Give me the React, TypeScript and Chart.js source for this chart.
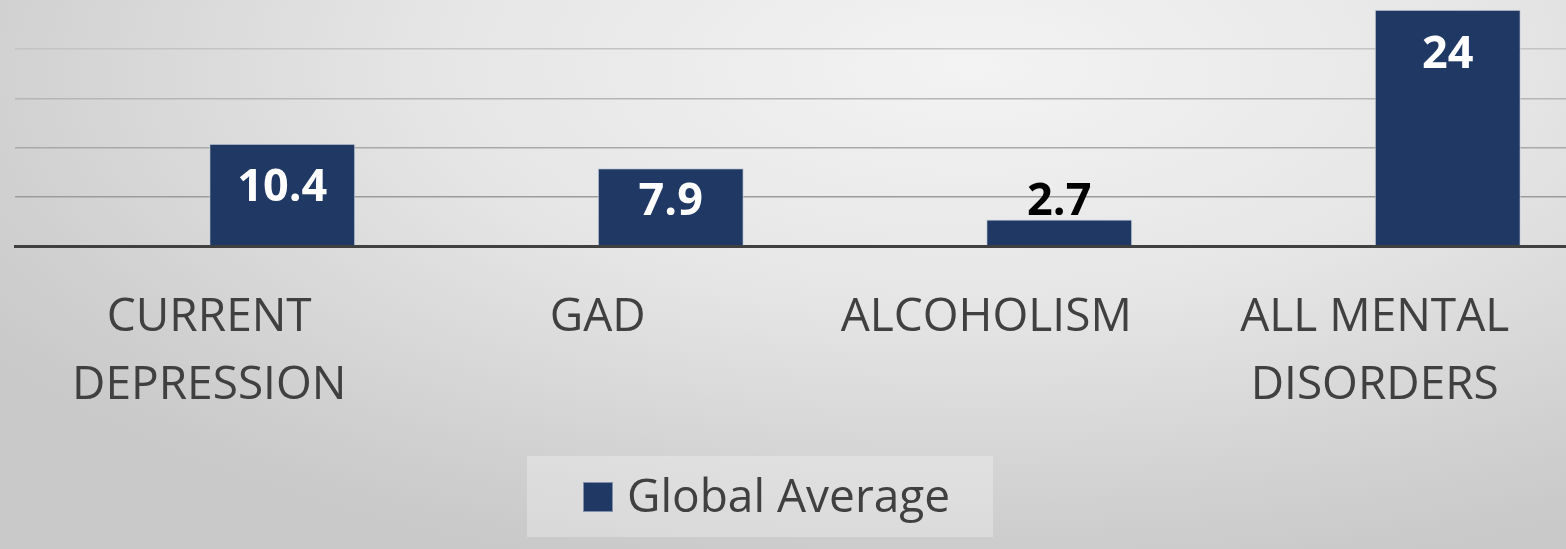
import React, { useEffect, useRef } from "react";
import { Chart, registerables } from "chart.js";

Chart.register(...registerables);

const categories: string[][] = [
  ["CURRENT", "DEPRESSION"],
  ["GAD"],
  ["ALCOHOLISM"],
  ["ALL MENTAL", "DISORDERS"],
];
const hiddenSeries: (number | null)[] = [null, null, null, null];
const globalAverage: number[] = [10.4, 7.9, 2.7, 24];
const seriesLabel = "Global Average";
const yTicks: number[] = [0, 5, 10, 15, 20, 25];

const NAVY = "#203864";
const FONT = "'Open Sans', 'Noto Sans', sans-serif";

const labelPlugin = {
  id: "barLabels",
  afterDatasetsDraw(chart: any) {
    const ctx = chart.ctx;
    const meta = chart.getDatasetMeta(1);
    const data = chart.data.datasets[1].data as number[];
    ctx.save();
    ctx.font = `bold 45px ${FONT}`;
    ctx.textAlign = "center";
    ctx.textBaseline = "middle";
    meta.data.forEach((bar: any, i: number) => {
      const top = bar.y;
      const base = bar.base;
      const cy = Math.min(top + 45, base - 43);
      ctx.fillStyle = cy > top + 18 ? "#ffffff" : "#000000";
      ctx.fillText(String(data[i]), bar.x, cy);
    });
    ctx.restore();
  },
};

const legendPlugin = {
  id: "customLegend",
  afterDraw(chart: any) {
    const ctx = chart.ctx;
    const ds = chart.data.datasets[1];
    ctx.save();
    ctx.fillStyle = "rgba(255,255,255,0.28)";
    ctx.fillRect(527, 456, 466, 81);
    ctx.fillStyle = ds.backgroundColor;
    ctx.fillRect(583, 482, 30, 30);
    ctx.strokeStyle = "#8090aa";
    ctx.lineWidth = 1;
    ctx.strokeRect(583.5, 482.5, 29, 29);
    ctx.fillStyle = "#404040";
    ctx.font = `46px ${FONT}`;
    ctx.textAlign = "left";
    ctx.textBaseline = "alphabetic";
    ctx.fillText(ds.label, 627, 512);
    ctx.restore();
  },
};

const gridColors: Record<number, string> = {
  0: "rgba(0,0,0,0)",
  5: "#9c9c9c",
  10: "#a9a9a9",
  15: "#b6b6b6",
  20: "#c4c4c4",
  25: "rgba(0,0,0,0)",
};

export default function App() {
  const ref = useRef<HTMLCanvasElement | null>(null);
  useEffect(() => {
    if (!ref.current) return;
    const chart = new Chart(ref.current, {
      type: "bar",
      data: {
        labels: categories,
        datasets: [
          {
            label: "",
            data: hiddenSeries,
            backgroundColor: "rgba(0,0,0,0)",
          },
          {
            label: seriesLabel,
            data: globalAverage,
            backgroundColor: NAVY,
            borderColor: "#c8d0dc",
            borderWidth: 1,
          },
        ],
      },
      options: {
        responsive: false,
        animation: false,
        categoryPercentage: 292 / 388.5,
        barPercentage: 1,
        layout: { padding: { left: 15, right: 0, top: 0, bottom: 91 } },
        plugins: {
          legend: { display: false },
          tooltip: { enabled: false },
        },
        scales: {
          x: {
            grid: { display: false, drawTicks: false },
            border: { display: true, color: "#404040", width: 3 },
            ticks: {
              color: "#404040",
              font: { family: FONT, size: 46, lineHeight: 68 / 46 },
              padding: 38,
              maxRotation: 0,
              autoSkip: false,
            },
          },
          y: {
            min: 0,
            max: 25,
            afterBuildTicks: (axis: any) => {
              axis.ticks = yTicks.map((v) => ({ value: v }));
            },
            grid: {
              drawTicks: false,
              lineWidth: 1.5,
              color: (c: any) => gridColors[c.tick?.value] ?? "#aaaaaa",
            },
            border: { display: false },
            ticks: { display: false },
          },
        },
      },
      plugins: [labelPlugin, legendPlugin],
    });
    return () => chart.destroy();
  }, []);

  return (
    <div
      style={{
        position: "absolute",
        left: 0,
        top: 0,
        width: 1566,
        height: 549,
        overflow: "hidden",
        background:
          "radial-gradient(ellipse 75% 95% at 62% 12%, #f3f3f3 0%, #e6e6e6 45%, #d0d0d0 85%, #c9c9c9 100%)",
      }}
    >
      <canvas ref={ref} width={1569} height={549} style={{ display: "block" }} />
    </div>
  );
}
